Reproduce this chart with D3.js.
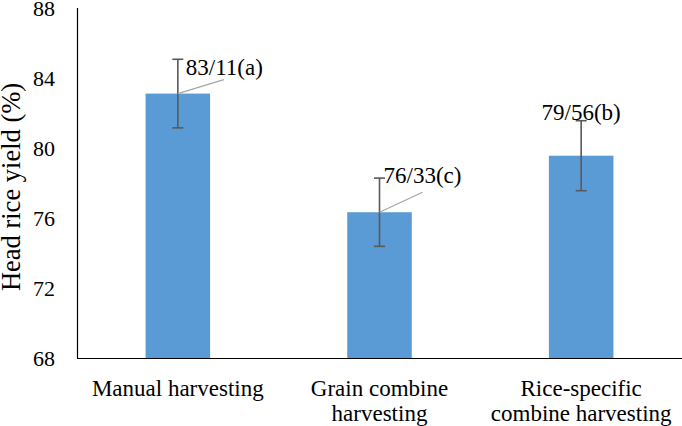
<!DOCTYPE html>
<html>
<head>
<meta charset="utf-8">
<script src="https://cdn.jsdelivr.net/npm/d3@7/dist/d3.min.js"></script>
<style>
  html, body { margin: 0; padding: 0; background: #fff; }
  svg { display: block; }
</style>
</head>
<body>
<svg id="chart"></svg>
<script>
// data
var categories = ["Manual harvesting", "Grain combine harvesting", "Rice-specific combine harvesting"];
var categoryLines = [["Manual harvesting"], ["Grain combine", "harvesting"], ["Rice-specific", "combine harvesting"]];
var yieldValues = [83.11, 76.33, 79.56];
var errorValues = [1.96, 1.95, 2.0];
var valueLabels = ["83/11(a)", "76/33(c)", "79/56(b)"];
var yTicks = [68, 72, 76, 80, 84, 88];

var W = 682,
    H = 426;
var FONT = "'Liberation Serif', 'Times New Roman', serif";

var svg = d3.select("#chart").attr("width", W).attr("height", H);

// 坐标范围
var plotL = 77, plotR = 682, plotT = 8, plotB = 358;

var x = d3.scaleBand()
    .domain(categories)
    .range([plotL, plotR])
    .paddingInner(0.68)
    .paddingOuter(0.34);

var y = d3.scaleLinear()
    .domain([68, 88])
    .range([plotB, plotT]);

// y 轴刻度
var yAxis = svg.append("g")
    .attr("transform", "translate(" + plotL + ",0)")
    .call(d3.axisLeft(y).tickValues(yTicks).tickSize(0).tickPadding(22).tickFormat(d3.format("d")));
yAxis.select(".domain").remove();
yAxis.selectAll("text")
    .style("font-family", FONT)
    .style("font-size", "22px")
    .attr("fill", "#000")
    .attr("dy", "0.34em");

// 柱子
svg.selectAll("rect.bar").data(categories)
    .enter().append("rect")
    .attr("class", "bar")
    .attr("x", function (d) { return x(d); })
    .attr("y", function (d, i) { return y(yieldValues[i]); })
    .attr("width", x.bandwidth())
    .attr("height", function (d, i) { return y(68) - y(yieldValues[i]); })
    .attr("fill", "#5b9bd5");

// 轴线
svg.append("line")
    .attr("x1", plotL + 0.5).attr("x2", plotL + 0.5)
    .attr("y1", plotT).attr("y2", plotB)
    .attr("stroke", "#000").attr("stroke-width", 1.2);
svg.append("line")
    .attr("x1", plotL).attr("x2", plotR)
    .attr("y1", plotB + 0.5).attr("y2", plotB + 0.5)
    .attr("stroke", "#000").attr("stroke-width", 1.2);

// 误差线
var capW = 5.5;
var err = svg.selectAll("g.err").data(categories)
    .enter().append("g").attr("class", "err")
    .attr("stroke", "#595959").attr("stroke-width", 1.6);
err.append("line")
    .attr("x1", function (d) { return x(d) + x.bandwidth() / 2; })
    .attr("x2", function (d) { return x(d) + x.bandwidth() / 2; })
    .attr("y1", function (d, i) { return y(yieldValues[i] + errorValues[i]); })
    .attr("y2", function (d, i) { return y(yieldValues[i] - errorValues[i]); });
[1, -1].forEach(function (s) {
    err.append("line")
        .attr("x1", function (d) { return x(d) + x.bandwidth() / 2 - capW; })
        .attr("x2", function (d) { return x(d) + x.bandwidth() / 2 + capW; })
        .attr("y1", function (d, i) { return y(yieldValues[i] + s * errorValues[i]); })
        .attr("y2", function (d, i) { return y(yieldValues[i] + s * errorValues[i]); });
});

// 数据标签（相对柱顶的偏移）
var labelOffsets = [
    { dx: 8, dy: -19, anchor: "start", lx: 46, ly: -14 },
    { dx: 4, dy: -29, anchor: "start", lx: 43, ly: -20 },
    { dx: 0, dy: -36, anchor: "middle", lx: null, ly: null }
];
categories.forEach(function (c, i) {
    var cx = x(c) + x.bandwidth() / 2,
        cy = y(yieldValues[i]),
        o = labelOffsets[i];
    if (o.lx !== null) {
        svg.append("line")
            .attr("x1", cx).attr("y1", cy)
            .attr("x2", cx + o.lx).attr("y2", cy + o.ly)
            .attr("stroke", "#a6a6a6").attr("stroke-width", 1.3);
    }
    svg.append("text")
        .attr("x", cx + o.dx).attr("y", cy + o.dy)
        .attr("text-anchor", o.anchor)
        .style("font-family", FONT)
        .style("font-size", "23px")
        .attr("fill", "#000")
        .text(valueLabels[i]);
});

// 分类标签
categories.forEach(function (c, i) {
    var cx = x(c) + x.bandwidth() / 2;
    var t = svg.append("text")
        .attr("text-anchor", "middle")
        .style("font-family", FONT)
        .style("font-size", "23px")
        .attr("fill", "#000");
    categoryLines[i].forEach(function (line, k) {
        t.append("tspan").attr("x", cx).attr("y", 396 + k * 25).text(line);
    });
});

// y 轴标题
svg.append("text")
    .attr("transform", "translate(20," + ((plotT + plotB) / 2 + 4) + ") rotate(-90)")
    .attr("text-anchor", "middle")
    .style("font-family", FONT)
    .style("font-size", "26.5px")
    .attr("fill", "#000")
    .text("Head rice yield (%)");
</script>
</body>
</html>
